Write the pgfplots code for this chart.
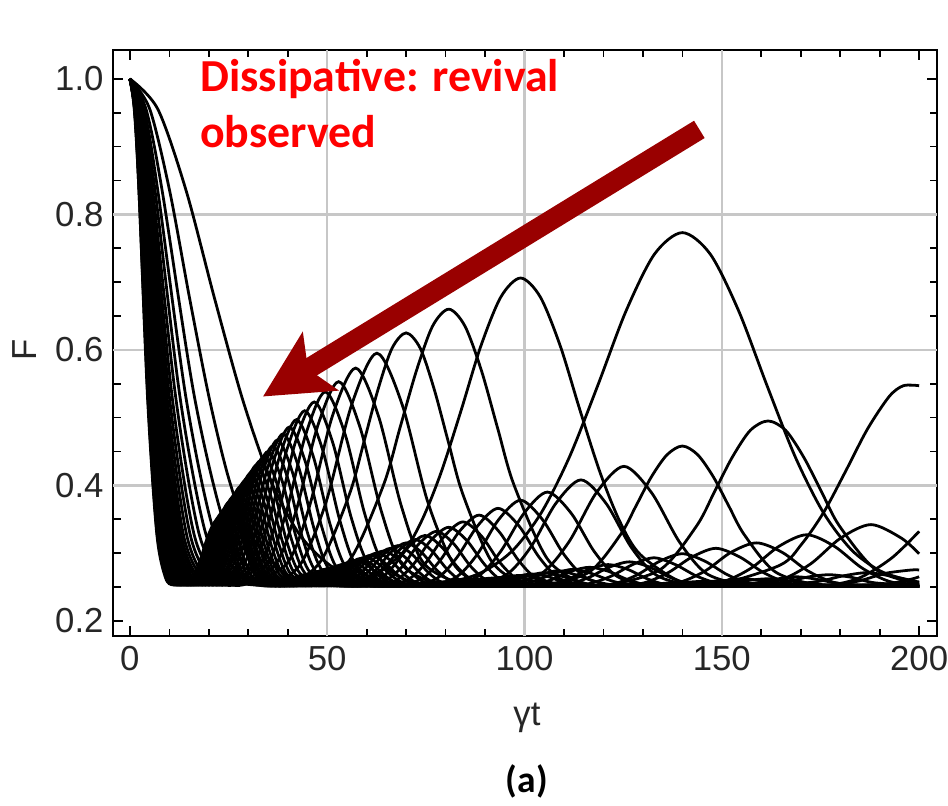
\documentclass[border=0pt]{standalone}
\usepackage{fontspec}
\setmainfont{Liberation Sans}
\newfontfamily\carlito{Carlito}
\usepackage{pgfplots}
\pgfplotsset{compat=1.18}
\usetikzlibrary{arrows.meta}
\definecolor{arrowred}{RGB}{153,0,0}
\definecolor{textred}{RGB}{255,0,0}
\pgfplotsset{cur/.style={black, line width=1.0pt, smooth, no markers}}
\begin{document}
\begin{tikzpicture}
\useasboundingbox (-40.8pt,-60.9pt) rectangle (300.5pt,229.1pt);
\begin{axis}[
  at={(0pt,0pt)}, anchor=south west,
  width=296.5pt, height=211.2pt, scale only axis,
  xmin=-4.2, xmax=204.5, ymin=0.177, ymax=1.043,
  xtick={0,50,...,200}, ytick={0.2,0.4,0.6,0.8,1.0},
  minor x tick num=4, minor y tick num=3,
  tick align=inside, major tick length=3.6pt, minor tick length=2.6pt,
  tick style={black, line width=0.6pt},
  axis line style={black, line width=0.8pt},
  /pgf/number format/assume math mode=true,
  ticklabel style={font=\fontsize{12.5}{13}\selectfont, text=black!85},
  yticklabel style={/pgf/number format/.cd, fixed, fixed zerofill, precision=1},
  extra x ticks={50,100,150}, extra y ticks={0.4,0.6,0.8},
  extra x tick labels={}, extra y tick labels={},
  extra tick style={grid=major, major tick length=0pt},
  major grid style={black!22, line width=0.9pt},
]
% n=1
\addplot[cur] coordinates {(0,1)(7.1,0.955)(14.3,0.834)(21.4,0.677)(28.6,0.526)(35.7,0.407)(42.8,0.329)(50,0.285)(57.1,0.264)(70,0.253)(82.9,0.260)(90,0.274)(97.2,0.305)(104.3,0.360)(111.4,0.442)(118.6,0.548)(125.7,0.657)(132.9,0.741)(140,0.773)(147.1,0.741)(154.3,0.657)(161.4,0.548)(168.6,0.442)(175.7,0.360)(182.8,0.305)(190,0.274)(197.1,0.260)(200,0.257)};
% n=2
\addplot[cur] coordinates {(0,1)(5.05,0.955)(10.1,0.834)(15.1,0.677)(20.2,0.526)(25.2,0.407)(30.3,0.329)(40.4,0.264)(49.5,0.253)(58.6,0.258)(68.7,0.298)(73.8,0.346)(78.8,0.418)(83.9,0.510)(88.9,0.605)(94,0.678)(99,0.706)(104,0.678)(109.1,0.605)(114.1,0.510)(119.2,0.418)(124.2,0.346)(129.3,0.298)(139.4,0.258)(148.5,0.253)(164.7,0.282)(170.2,0.313)(175.8,0.360)(181.3,0.420)(186.9,0.483)(192.4,0.531)(196,0.547)(200,0.547)};
% n=3
\addplot[cur] coordinates {(0,1)(4.1,0.955)(8.2,0.834)(16.5,0.526)(24.7,0.329)(33,0.264)(40.4,0.253)(47.8,0.258)(56.1,0.293)(64.3,0.401)(68.4,0.484)(72.6,0.569)(76.7,0.635)(80.8,0.660)(84.9,0.635)(89.1,0.569)(93.2,0.484)(97.3,0.401)(105.6,0.293)(113.8,0.258)(121.2,0.253)(134.5,0.276)(143.6,0.340)(148.1,0.390)(152.6,0.441)(157.2,0.481)(161.7,0.495)(166.2,0.481)(170.8,0.441)(175.3,0.390)(179.8,0.340)(188.9,0.276)(200,0.254)};
% n=4
\addplot[cur] coordinates {(0,1)(3.6,0.955)(7.1,0.834)(14.3,0.526)(21.4,0.329)(28.6,0.264)(35,0.253)(41.4,0.257)(48.6,0.290)(55.7,0.388)(59.3,0.464)(62.9,0.542)(66.4,0.602)(70,0.625)(73.6,0.602)(77.1,0.542)(80.7,0.464)(84.3,0.388)(91.4,0.290)(98.6,0.257)(105,0.253)(116.4,0.272)(124.3,0.327)(128.2,0.369)(132.1,0.412)(136.1,0.445)(140,0.458)(143.9,0.445)(147.9,0.412)(151.8,0.369)(155.7,0.327)(163.6,0.272)(175,0.253)(184.3,0.262)(192.9,0.292)(200,0.332)};
% n=5
\addplot[cur] coordinates {(0,1)(3.2,0.955)(6.4,0.834)(12.8,0.526)(19.2,0.329)(25.5,0.264)(31.3,0.253)(37.1,0.256)(43.5,0.286)(49.8,0.377)(56.2,0.519)(62.6,0.595)(69,0.519)(75.4,0.377)(81.8,0.286)(88.1,0.256)(93.9,0.253)(104.1,0.269)(111.2,0.316)(118.2,0.389)(125.2,0.428)(132.2,0.389)(139.3,0.316)(146.3,0.269)(156.5,0.253)(164.8,0.260)(172.5,0.284)(180.1,0.322)(187.8,0.342)(195.5,0.322)(200,0.299)};
% n=6
\addplot[cur] coordinates {(0,1)(2.9,0.955)(5.8,0.834)(11.7,0.526)(17.5,0.329)(23.3,0.264)(28.6,0.253)(39.7,0.284)(45.5,0.369)(51.3,0.502)(57.2,0.573)(63,0.502)(68.8,0.369)(74.6,0.284)(85.7,0.253)(95.1,0.267)(101.5,0.308)(107.9,0.373)(114.3,0.408)(120.7,0.373)(127.1,0.308)(133.5,0.267)(142.9,0.252)(150.5,0.258)(157.5,0.278)(164.5,0.310)(171.5,0.327)(178.5,0.310)(185.5,0.278)(192.5,0.258)(200,0.252)};
% n=7
\addplot[cur] coordinates {(0,1)(2.7,0.955)(5.4,0.834)(10.8,0.526)(16.2,0.329)(21.6,0.264)(26.5,0.253)(36.7,0.282)(42.1,0.362)(47.5,0.486)(52.9,0.553)(58.3,0.486)(63.7,0.362)(69.1,0.282)(79.4,0.253)(88,0.265)(93.9,0.302)(99.9,0.359)(105.8,0.390)(111.8,0.359)(117.7,0.302)(123.6,0.265)(132.3,0.252)(139.4,0.257)(145.9,0.274)(152.3,0.301)(158.8,0.315)(165.3,0.301)(171.7,0.274)(178.2,0.257)(185.2,0.252)(190.7,0.253)(197.7,0.261)(200,0.265)};
% n=8
\addplot[cur] coordinates {(0,1)(2.5,0.955)(5.1,0.834)(10.1,0.526)(15.2,0.329)(20.2,0.264)(24.8,0.253)(34.4,0.280)(39.4,0.356)(44.5,0.474)(49.5,0.538)(54.6,0.474)(59.6,0.356)(64.7,0.280)(74.3,0.253)(82.3,0.263)(87.9,0.297)(93.4,0.349)(99,0.378)(104.6,0.349)(110.1,0.297)(115.7,0.263)(123.8,0.252)(130.3,0.256)(136.4,0.271)(142.4,0.294)(148.5,0.307)(154.6,0.294)(160.6,0.271)(166.7,0.256)(173.3,0.252)(178.3,0.253)(184.9,0.259)(191.4,0.270)(198,0.275)(200,0.275)};
% n=9
\addplot[cur] coordinates {(0,1)(2.4,0.955)(4.8,0.834)(9.5,0.526)(14.3,0.329)(19,0.264)(23.3,0.253)(32.4,0.279)(37.2,0.350)(41.9,0.463)(46.7,0.523)(51.4,0.463)(56.2,0.350)(61,0.279)(70,0.253)(77.6,0.262)(82.8,0.293)(88.1,0.340)(93.3,0.366)(98.6,0.340)(103.8,0.293)(109,0.262)(116.7,0.252)(122.9,0.255)(128.6,0.268)(134.3,0.288)(140,0.299)(145.7,0.288)(151.4,0.268)(157.1,0.255)(163.3,0.252)(174.3,0.258)(180.5,0.266)(186.7,0.271)(192.9,0.266)(200,0.257)};
% n=10
\addplot[cur] coordinates {(0,1)(2.3,0.955)(4.5,0.834)(9,0.526)(13.5,0.329)(18.1,0.264)(22.1,0.253)(30.7,0.277)(35.2,0.346)(39.8,0.453)(44.3,0.510)(48.8,0.453)(53.3,0.346)(57.8,0.277)(66.4,0.253)(73.6,0.261)(78.6,0.289)(83.5,0.332)(88.5,0.356)(93.5,0.332)(98.5,0.289)(103.4,0.261)(110.7,0.252)(116.5,0.255)(122,0.266)(127.4,0.283)(132.8,0.293)(138.2,0.283)(143.6,0.266)(149.1,0.255)(154.9,0.252)(165.4,0.256)(171.2,0.264)(177.1,0.268)(183,0.264)(188.8,0.256)(200,0.252)};
% n=11
\addplot[cur] coordinates {(0,1)(2.2,0.955)(4.3,0.834)(8.6,0.526)(12.9,0.329)(17.2,0.264)(21.1,0.253)(29.3,0.276)(33.6,0.341)(37.9,0.442)(42.2,0.497)(46.5,0.442)(50.8,0.341)(55.1,0.276)(63.3,0.253)(70.2,0.260)(74.9,0.285)(79.7,0.325)(84.4,0.346)(89.1,0.325)(93.9,0.285)(98.6,0.260)(105.5,0.252)(111.1,0.254)(116.3,0.264)(121.4,0.279)(126.6,0.287)(131.8,0.279)(136.9,0.264)(142.1,0.254)(147.7,0.252)(157.6,0.255)(168.8,0.265)(180,0.255)(189.9,0.251)(200,0.253)};
% n=12
\addplot[cur] coordinates {(0,1)(2.1,0.955)(4.1,0.834)(8.2,0.526)(12.4,0.329)(16.5,0.264)(20.2,0.253)(28,0.275)(32.2,0.337)(36.3,0.434)(40.4,0.486)(44.5,0.434)(48.7,0.337)(52.8,0.275)(60.6,0.253)(67.2,0.259)(71.8,0.283)(76.3,0.319)(80.8,0.338)(85.3,0.319)(89.9,0.283)(94.4,0.259)(101,0.252)(106.4,0.253)(111.3,0.262)(116.3,0.276)(121.2,0.283)(126.1,0.276)(131.1,0.262)(136,0.253)(141.4,0.251)(150.9,0.255)(161.6,0.262)(172.3,0.255)(181.8,0.251)(190.5,0.252)(200,0.255)};
% n=13
\addplot[cur] coordinates {(0,1)(2,0.955)(4,0.834)(7.9,0.526)(11.9,0.329)(15.8,0.264)(19.4,0.253)(26.9,0.274)(30.9,0.333)(34.9,0.426)(38.8,0.476)(42.8,0.426)(46.8,0.333)(50.7,0.274)(58.2,0.253)(64.6,0.259)(69,0.280)(73.3,0.314)(77.7,0.332)(82,0.314)(86.4,0.280)(90.7,0.259)(97.1,0.252)(102.3,0.253)(107,0.261)(111.7,0.273)(116.5,0.279)(121.3,0.273)(126,0.261)(130.8,0.253)(135.9,0.251)(145,0.254)(155.3,0.262)(165.6,0.254)(174.7,0.251)(183.1,0.252)(194.2,0.255)(200,0.254)};
% n=14
\addplot[cur] coordinates {(0,1)(1.9,0.955)(3.8,0.834)(7.6,0.526)(11.4,0.329)(15.3,0.264)(18.7,0.253)(26,0.273)(29.8,0.330)(33.6,0.419)(37.4,0.467)(41.2,0.419)(45,0.330)(48.9,0.273)(56.1,0.253)(62.2,0.258)(66.4,0.278)(70.6,0.309)(74.8,0.326)(79,0.309)(83.2,0.278)(87.4,0.258)(93.6,0.252)(98.5,0.253)(103.1,0.260)(107.7,0.270)(112.3,0.276)(116.9,0.270)(121.5,0.260)(126.1,0.253)(131,0.251)(139.8,0.253)(149.7,0.259)(159.6,0.253)(168.4,0.251)(187.1,0.253)(200,0.251)};
% n=15
\addplot[cur] coordinates {(0,1)(1.8,0.955)(3.7,0.834)(7.4,0.526)(11.1,0.329)(14.7,0.264)(18.1,0.253)(25.1,0.272)(28.8,0.327)(32.5,0.412)(36.2,0.458)(39.9,0.412)(43.5,0.327)(47.2,0.272)(54.2,0.253)(60.1,0.257)(64.2,0.276)(68.2,0.304)(72.3,0.320)(76.4,0.304)(80.4,0.276)(84.5,0.257)(90.4,0.252)(95.2,0.252)(99.7,0.259)(104.1,0.268)(108.5,0.274)(112.9,0.268)(117.3,0.259)(121.8,0.252)(126.5,0.251)(135,0.253)(144.6,0.258)(154.2,0.253)(162.7,0.251)(180.8,0.253)(200,0.251)};
% n=16
\addplot[cur] coordinates {(0,1)(1.8,0.955)(3.6,0.834)(7.1,0.526)(10.7,0.329)(14.3,0.264)(17.5,0.253)(24.3,0.271)(27.9,0.324)(31.4,0.406)(35,0.450)(38.6,0.406)(42.1,0.324)(45.7,0.271)(52.5,0.253)(58.2,0.257)(62.2,0.274)(66.1,0.301)(70,0.315)(73.9,0.301)(77.9,0.274)(81.8,0.257)(87.5,0.251)(92.1,0.252)(96.4,0.258)(100.7,0.266)(105,0.271)(109.3,0.266)(113.6,0.258)(117.9,0.252)(122.5,0.251)(130.7,0.253)(140,0.257)(149.3,0.253)(157.5,0.251)(175,0.252)(200,0.251)};
% n=17
\addplot[cur] coordinates {(0,1)(1.7,0.955)(3.5,0.834)(6.9,0.526)(10.4,0.329)(13.9,0.264)(17,0.253)(23.6,0.270)(27.1,0.321)(30.5,0.400)(34,0.443)(37.4,0.400)(40.9,0.321)(44.4,0.270)(50.9,0.252)(56.5,0.256)(60.3,0.272)(64.1,0.297)(67.9,0.311)(71.7,0.297)(75.5,0.272)(79.3,0.256)(84.9,0.251)(93.6,0.257)(97.7,0.265)(101.9,0.269)(106.1,0.265)(110.2,0.257)(118.9,0.251)(135.8,0.255)(152.8,0.251)(200,0.251)};
% n=18
\addplot[cur] coordinates {(0,1)(1.7,0.955)(3.4,0.834)(6.7,0.526)(10.1,0.329)(13.5,0.264)(16.5,0.253)(22.9,0.270)(26.3,0.318)(29.6,0.395)(33,0.436)(36.4,0.395)(39.7,0.318)(43.1,0.270)(49.5,0.252)(54.9,0.256)(58.6,0.271)(62.3,0.294)(66,0.307)(69.7,0.294)(73.4,0.271)(77.1,0.256)(82.5,0.251)(90.9,0.256)(95,0.264)(99,0.267)(103,0.264)(107.1,0.256)(115.5,0.251)(123.9,0.252)(132,0.255)(140.1,0.252)(148.5,0.251)(200,0.251)};
% n=19
\addplot[cur] coordinates {(0,1)(1.6,0.955)(3.3,0.834)(6.6,0.526)(9.8,0.329)(13.1,0.264)(16.1,0.253)(22.3,0.269)(25.6,0.316)(28.8,0.390)(32.1,0.430)(35.4,0.390)(38.7,0.316)(41.9,0.269)(48.2,0.252)(53.4,0.256)(57,0.270)(60.6,0.292)(64.2,0.303)(67.8,0.292)(71.4,0.270)(75,0.256)(80.3,0.251)(88.5,0.256)(92.5,0.262)(96.4,0.266)(100.3,0.262)(104.3,0.256)(112.4,0.251)(128.5,0.254)(144.5,0.251)(200,0.251)};
% n=20
\addplot[cur] coordinates {(0,1)(1.6,0.955)(3.2,0.834)(6.4,0.526)(9.6,0.329)(12.8,0.264)(15.7,0.253)(21.7,0.268)(24.9,0.314)(28.1,0.385)(31.3,0.423)(34.5,0.385)(37.7,0.314)(40.9,0.268)(47,0.252)(52.1,0.255)(55.6,0.268)(59.1,0.289)(62.6,0.300)(66.1,0.289)(69.6,0.268)(73.1,0.255)(78.3,0.251)(86.2,0.255)(90.1,0.261)(93.9,0.264)(97.7,0.261)(101.6,0.255)(109.6,0.251)(118.2,0.252)(125.2,0.254)(132.2,0.252)(200,0.251)};
% n=21
\addplot[cur] coordinates {(0,1)(1.6,0.955)(3.1,0.834)(6.2,0.526)(9.3,0.329)(12.5,0.264)(15.3,0.253)(21.2,0.268)(24.3,0.312)(27.4,0.380)(30.6,0.418)(33.7,0.380)(36.8,0.312)(39.9,0.268)(45.8,0.252)(50.8,0.255)(54.3,0.267)(57.7,0.286)(61.1,0.297)(64.5,0.286)(68,0.267)(71.4,0.255)(76.4,0.251)(84.2,0.255)(87.9,0.260)(91.7,0.263)(95.4,0.260)(99.2,0.255)(106.9,0.251)(122.2,0.253)(137.5,0.251)(200,0.251)};
% n=22
\addplot[cur] coordinates {(0,1)(1.5,0.955)(3,0.834)(6.1,0.526)(9.1,0.329)(12.2,0.264)(14.9,0.253)(20.7,0.267)(23.8,0.310)(26.8,0.376)(29.9,0.412)(32.9,0.376)(35.9,0.310)(39,0.267)(44.8,0.252)(49.7,0.255)(53,0.266)(56.4,0.284)(59.7,0.294)(63,0.284)(66.4,0.266)(69.7,0.255)(74.6,0.251)(82.3,0.254)(86,0.259)(89.6,0.262)(93.2,0.259)(96.9,0.254)(104.5,0.251)(200,0.251)};
% n=23
\addplot[cur] coordinates {(0,1)(1.5,0.955)(3,0.834)(6,0.526)(8.9,0.329)(11.9,0.264)(14.6,0.253)(20.3,0.267)(23.2,0.308)(26.2,0.372)(29.2,0.407)(32.2,0.372)(35.1,0.308)(38.1,0.267)(43.8,0.252)(48.6,0.254)(51.8,0.265)(55.1,0.282)(58.4,0.292)(61.7,0.282)(65,0.265)(68.2,0.254)(73,0.251)(80.5,0.254)(84,0.259)(87.6,0.261)(91.2,0.259)(94.7,0.254)(102.2,0.251)(200,0.251)};
% n=24
\addplot[cur] coordinates {(0,1)(1.5,0.955)(2.9,0.834)(5.8,0.526)(8.7,0.329)(11.7,0.264)(14.3,0.253)(19.8,0.266)(22.8,0.306)(25.7,0.368)(28.6,0.402)(31.5,0.368)(34.4,0.306)(37.3,0.266)(42.9,0.252)(47.6,0.254)(50.8,0.264)(54,0.281)(57.2,0.289)(60.4,0.281)(63.6,0.264)(66.8,0.254)(71.5,0.251)(78.7,0.254)(82.2,0.258)(85.7,0.260)(89.2,0.258)(92.7,0.254)(100,0.251)(200,0.251)};
% n=25
\addplot[cur] coordinates {(0,1)(1.4,0.955)(2.9,0.834)(5.7,0.526)(8.6,0.329)(11.4,0.264)(14,0.253)(19.4,0.266)(22.3,0.304)(25.1,0.365)(28,0.398)(30.9,0.365)(33.7,0.304)(36.6,0.266)(42,0.252)(46.6,0.254)(49.7,0.264)(52.9,0.279)(56,0.287)(59.1,0.279)(62.3,0.264)(65.4,0.254)(70,0.251)(77.2,0.253)(84,0.259)(90.9,0.253)(98,0.251)(200,0.251)};
% n=26
\addplot[cur] coordinates {(0,1)(1.4,0.955)(2.8,0.834)(5.6,0.526)(8.4,0.329)(11.2,0.264)(13.7,0.253)(19.1,0.265)(21.9,0.303)(24.7,0.361)(27.5,0.393)(30.3,0.361)(33.1,0.303)(35.9,0.265)(41.2,0.252)(45.7,0.254)(48.8,0.263)(51.8,0.277)(54.9,0.285)(58,0.277)(61.1,0.263)(64.1,0.254)(68.7,0.251)(75.7,0.253)(82.4,0.258)(89.1,0.253)(96.1,0.251)(200,0.251)};
% n=27
\addplot[cur] coordinates {(0,1)(1.4,0.955)(2.8,0.834)(5.5,0.526)(8.3,0.329)(11,0.264)(13.5,0.253)(18.7,0.265)(21.4,0.301)(24.2,0.358)(26.9,0.389)(29.7,0.358)(32.4,0.301)(35.2,0.265)(40.4,0.252)(44.8,0.254)(47.8,0.262)(50.9,0.276)(53.9,0.283)(56.9,0.276)(60,0.262)(63,0.254)(67.4,0.251)(74.4,0.253)(80.8,0.258)(87.2,0.253)(94.3,0.251)(200,0.251)};
% n=28
\addplot[cur] coordinates {(0,1)(1.4,0.955)(2.7,0.834)(5.4,0.526)(8.1,0.329)(10.8,0.264)(13.2,0.253)(18.4,0.264)(21.1,0.300)(23.8,0.355)(26.5,0.385)(29.2,0.355)(31.9,0.300)(34.6,0.264)(39.7,0.252)(44,0.253)(46.9,0.262)(49.9,0.275)(52.9,0.281)(55.9,0.275)(58.9,0.262)(61.8,0.253)(66.2,0.251)(72.9,0.253)(79.4,0.257)(85.9,0.253)(92.6,0.251)(200,0.251)};
% n=29
\addplot[cur] coordinates {(0,1)(1.3,0.955)(2.7,0.834)(5.3,0.526)(8,0.329)(10.6,0.264)(13,0.253)(18.1,0.264)(20.7,0.298)(23.4,0.352)(26,0.382)(28.7,0.352)(31.3,0.298)(34,0.264)(39,0.252)(43.3,0.253)(46.2,0.261)(49.1,0.273)(52,0.280)(54.9,0.273)(57.8,0.261)(60.7,0.253)(65,0.251)(71.8,0.252)(78,0.257)(84.2,0.252)(91,0.251)(200,0.251)};
% n=30
\addplot[cur] coordinates {(0,1)(1.3,0.955)(2.6,0.834)(5.2,0.526)(7.8,0.329)(10.4,0.264)(12.8,0.253)(17.7,0.264)(20.4,0.297)(23,0.350)(25.6,0.378)(28.2,0.350)(30.8,0.297)(33.4,0.264)(38.3,0.252)(42.5,0.253)(45.4,0.260)(48.3,0.272)(51.1,0.278)(54,0.272)(56.8,0.260)(59.7,0.253)(63.9,0.251)(70.4,0.252)(76.7,0.256)(83,0.252)(89.5,0.251)(200,0.251)};
% n=31
\addplot[cur] coordinates {(0,1)(1.3,0.955)(2.6,0.834)(5.1,0.526)(7.7,0.329)(10.3,0.264)(12.6,0.253)(17.4,0.263)(20,0.296)(22.6,0.347)(25.1,0.375)(27.7,0.347)(30.3,0.296)(32.8,0.263)(37.7,0.252)(41.8,0.253)(44.7,0.260)(47.5,0.271)(50.3,0.277)(53.1,0.271)(55.9,0.260)(58.8,0.253)(62.9,0.251)(69.3,0.252)(75.4,0.256)(81.5,0.252)(88,0.251)(200,0.251)};
% n=32
\addplot[cur] coordinates {(0,1)(1.3,0.955)(2.5,0.834)(5.1,0.526)(7.6,0.329)(10.1,0.264)(12.4,0.253)(17.2,0.263)(19.7,0.295)(22.2,0.344)(24.8,0.371)(27.3,0.344)(29.8,0.295)(32.3,0.263)(37.1,0.252)(41.2,0.253)(44,0.260)(46.7,0.270)(49.5,0.276)(52.3,0.270)(55.1,0.260)(57.8,0.253)(61.9,0.251)(68.2,0.252)(74.3,0.255)(80.4,0.252)(86.6,0.251)(200,0.251)};
% n=34
\addplot[cur] coordinates {(0,1)(1.2,0.955)(2.5,0.834)(4.9,0.526)(7.4,0.329)(9.8,0.264)(12,0.253)(16.7,0.262)(19.1,0.292)(21.6,0.340)(24,0.365)(26.5,0.340)(28.9,0.292)(31.4,0.262)(36,0.252)(39.9,0.252)(42.6,0.259)(45.3,0.268)(48,0.273)(50.7,0.268)(53.4,0.259)(56.1,0.252)(60,0.251)(66.2,0.252)(72,0.255)(77.8,0.252)(84,0.251)(200,0.251)};
% n=36
\addplot[cur] coordinates {(0,1)(1.2,0.955)(2.4,0.834)(4.8,0.526)(7.1,0.329)(9.5,0.264)(11.7,0.253)(16.2,0.262)(18.6,0.290)(20.9,0.335)(23.3,0.359)(25.7,0.335)(28.1,0.290)(30.5,0.262)(35,0.252)(38.8,0.252)(41.5,0.258)(44.1,0.266)(46.7,0.271)(49.3,0.266)(51.9,0.258)(54.6,0.252)(58.3,0.251)(64.5,0.252)(70,0.254)(75.5,0.252)(81.7,0.251)(200,0.251)};
% n=38
\addplot[cur] coordinates {(0,1)(1.2,0.955)(2.3,0.834)(4.6,0.526)(6.9,0.329)(9.3,0.264)(11.4,0.253)(15.8,0.261)(18.1,0.288)(20.4,0.331)(22.7,0.354)(25,0.331)(27.3,0.288)(29.7,0.261)(34.1,0.252)(37.8,0.252)(40.3,0.257)(42.9,0.265)(45.4,0.269)(48,0.265)(50.5,0.257)(53,0.252)(56.8,0.251)(68.1,0.254)(79.5,0.251)(200,0.251)};
% n=40
\addplot[cur] coordinates {(0,1)(1.1,0.955)(2.3,0.834)(4.5,0.526)(6.8,0.329)(9,0.264)(11.1,0.253)(15.4,0.260)(17.6,0.286)(19.9,0.327)(22.1,0.349)(24.4,0.327)(26.7,0.286)(28.9,0.260)(33.2,0.252)(36.8,0.252)(39.3,0.257)(41.8,0.264)(44.3,0.268)(46.8,0.264)(49.3,0.257)(51.8,0.252)(55.4,0.251)(66.4,0.253)(77.5,0.251)(200,0.251)};
% annotation
\draw[arrowred, line width=7.3pt, -{Stealth[length=24pt, width=24pt, inset=5pt]}] (axis cs:144.3,0.9254) -- (axis cs:33.7,0.531);
\node[anchor=base west, inner sep=0pt, text=textred, font=\carlito\bfseries\fontsize{16.5}{18}\selectfont] at (axis cs:17.7,0.982) {Dissipative: revival};
\node[anchor=base west, inner sep=0pt, text=textred, font=\carlito\bfseries\fontsize{16.5}{18}\selectfont] at (axis cs:17.7,0.8984) {observed};
\end{axis}
\node[font=\fontsize{12.5}{13}\selectfont, text=black!85] at (148.9pt,-29.3pt) {γt};
\node[font=\fontsize{12.5}{13}\selectfont, text=black!85, rotate=90] at (-31.8pt,103.2pt) {F};
\node[font=\carlito\bfseries\fontsize{13.5}{14}\selectfont] at (148.9pt,-52.3pt) {(a)};
\end{tikzpicture}
\end{document}
